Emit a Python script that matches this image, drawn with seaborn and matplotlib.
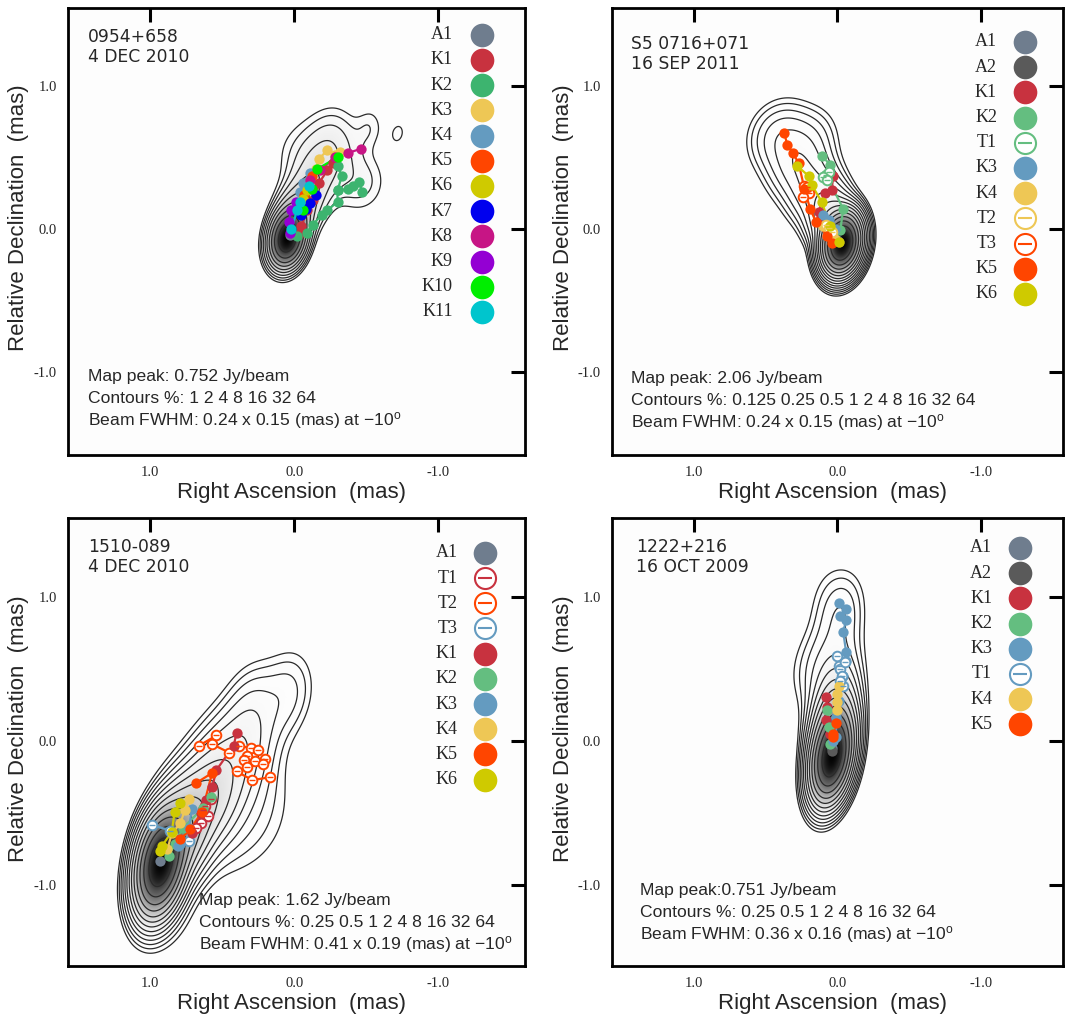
import numpy as np
import matplotlib
matplotlib.use('Agg')
import matplotlib.pyplot as plt
import seaborn as sns

sns.set_style('white')
plt.rcParams['font.family'] = ['Liberation Sans', 'DejaVu Sans']
plt.rcParams['axes.unicode_minus'] = False
plt.rcParams['mathtext.default'] = 'regular'

# ---------------- data (mas) ----------------
# colours
grey_a1 = '#6F7D8E'
grey_a2 = '#5A5A5A'
red = '#C8323F'
green1 = '#3DB46F'
green = '#64BE80'
yellow = '#EEC755'
blue = '#649BC0'
orange = '#FF4500'
olive = '#CFCA00'

# map models: x, y, peak amplitude, extra size (FWHM) added to beam
model_0954 = {'x': [0.05, 0.00, -0.08, -0.17, -0.27, -0.04, -0.46, -0.26, -0.52, -0.72],
              'y': [-0.07, 0.08, 0.22, 0.40, 0.56, 0.55, 0.32, 0.70, 0.71, 0.67],
              'amp': [1.0, 0.14, 0.06, 0.035, 0.022, 0.012, 0.02, 0.011, 0.0135, 0.0115],
              'size': [0.0, 0.10, 0.16, 0.22, 0.26, 0.28, 0.24, 0.22, 0.0, 0.0]}
model_0716 = {'x': [-0.03, 0.05, 0.15, 0.27, 0.36, 0.15, 0.48],
              'y': [-0.10, 0.08, 0.25, 0.45, 0.66, 0.66, 0.62],
              'amp': [1.0, 0.035, 0.012, 0.010, 0.005, 0.002, 0.002],
              'size': [0.0, 0.12, 0.2, 0.25, 0.25, 0.2, 0.2]}
model_1510 = {'x': [0.93, 0.78, 0.60, 0.45, 0.32, 0.29, 0.05, 0.90, 0.45],
              'y': [-0.85, -0.62, -0.40, -0.15, 0.03, 0.24, 0.33, -1.15, -0.45],
              'amp': [1.0, 0.15, 0.05, 0.02, 0.008, 0.0075, 0.0075, 0.004, 0.008],
              'size': [0.0, 0.15, 0.2, 0.25, 0.25, 0.18, 0.18, 0.3, 0.55]}
model_1222 = {'x': [0.04, 0.03, 0.02, 0.05, 0.18, -0.01, -0.03, 0.08],
              'y': [-0.11, 0.12, 0.35, 0.56, 0.48, 0.75, 0.92, 1.02],
              'amp': [1.0, 0.12, 0.02, 0.006, 0.003, 0.003, 0.007, 0.002],
              'size': [0.0, 0.10, 0.15, 0.25, 0.2, 0.2, 0.15, 0.15]}

beams = [(0.24, 0.15, -10), (0.24, 0.15, -10), (0.41, 0.19, -10), (0.36, 0.16, -10)]

levels_0954 = [1, 1.6, 2.5, 4, 6.4, 10, 16, 25, 40, 64]
levels_0716 = [0.125, 0.2, 0.32, 0.5, 0.8, 1.25, 2, 3.2, 5, 8, 12.5, 20, 32, 50]
levels_1510 = [0.25, 0.4, 0.63, 1, 1.6, 2.5, 4, 6.3, 10, 16, 25, 40, 64]
levels_1222 = [0.25, 0.4, 0.63, 1, 1.6, 2.5, 4, 6.3, 10, 16, 25, 40, 64]

# component tracks: name -> (RA offsets, Dec offsets)
tracks_0954 = {
    'A1': ([0.03], [-0.04]),
    'K1': ([-0.04, -0.05, -0.09, -0.13, -0.17, -0.23, -0.27], [-0.03, 0.02, 0.13, 0.20, 0.32, 0.41, 0.46]),
    'K2': ([-0.02, -0.09, -0.13, -0.19, -0.23, -0.30, -0.30, -0.37, -0.41, -0.45, -0.47, np.nan, -0.30, -0.33, -0.30],
           [-0.05, -0.03, 0.03, 0.10, 0.13, 0.19, 0.27, 0.28, 0.30, 0.33, 0.26, np.nan, 0.27, 0.37, 0.44]),
    'K3': ([-0.10, -0.15, -0.17, -0.23, -0.28, -0.32], [0.30, 0.42, 0.49, 0.55, 0.52, 0.54]),
    'K4': ([-0.04, -0.06, -0.11], [0.26, 0.32, 0.39]),
    'K5': ([-0.07, -0.10, -0.12], [0.24, 0.28, 0.37]),
    'K6': ([-0.03, -0.06, -0.09], [0.15, 0.21, 0.27]),
    'K7': ([-0.05, -0.08, -0.11, -0.15], [0.10, 0.14, 0.18, 0.24]),
    'K8': ([-0.11, -0.18, -0.28, -0.37, -0.46], [0.34, 0.41, 0.50, 0.53, 0.56]),
    'K9': ([0.03, 0.04, 0.02, -0.01], [-0.03, 0.05, 0.13, 0.19]),
    'K10': ([-0.06, -0.12, -0.16, -0.30], [0.13, 0.28, 0.42, 0.50]),
    'K11': ([0.02, -0.02, -0.04, -0.10], [0.00, 0.13, 0.19, 0.30]),
}
tracks_0716 = {
    'A1': ([0.0], [-0.08]),
    'A2': ([-0.01], [-0.09]),
    'K1': ([0.03, 0.04, 0.09, 0.13, 0.12], [0.37, 0.27, 0.25, 0.12, 0.06]),
    'K2': ([0.11, 0.05, 0.08, -0.04, -0.02], [0.51, 0.45, 0.38, 0.14, -0.01]),
    'T1': ([0.08, 0.06, 0.10, 0.07], [0.38, 0.40, 0.36, 0.34]),
    'K3': ([0.10, 0.06, 0.02], [0.10, 0.06, 0.00]),
    'K4': ([0.10, 0.05, 0.06, 0.02], [0.02, 0.00, -0.05, -0.07]),
    'T2': ([0.08, 0.06, 0.04], [0.03, 0.01, -0.02]),
    'T3': ([0.22, 0.20, 0.24, 0.23, 0.21], [0.27, 0.25, 0.22, 0.30, 0.29]),
    'K5': ([0.37, 0.35, 0.31, 0.27, 0.23, 0.19, 0.15, 0.07, 0.04], [0.67, 0.59, 0.53, 0.46, 0.28, 0.14, 0.05, -0.05, -0.10]),
    'K6': ([0.28, 0.20, 0.18, 0.11, 0.05, -0.01], [0.44, 0.37, 0.31, 0.19, 0.02, -0.09]),
}
tracks_1510 = {
    'A1': ([0.93], [-0.83]),
    'T1': ([0.58, 0.62, 0.60, 0.65, 0.68, 0.63], [-0.40, -0.45, -0.52, -0.57, -0.60, -0.48]),
    'T2': ([0.66, 0.54, 0.57, 0.45, 0.38, 0.30, 0.25, 0.33, 0.35, 0.27, 0.20, 0.22, 0.33, 0.40, 0.29, 0.17],
           [-0.03, 0.04, -0.02, -0.08, -0.03, -0.05, -0.06, -0.10, -0.13, -0.14, -0.12, -0.16, -0.18, -0.21, -0.27, -0.25]),
    'T3': ([0.99, 0.86, 0.73], [-0.58, -0.62, -0.69]),
    'K1': ([0.40, 0.42, 0.54, 0.57, 0.61, 0.65, 0.71], [0.06, -0.03, -0.20, -0.32, -0.41, -0.50, -0.64]),
    'K2': ([0.58, 0.63, 0.77, 0.83, 0.87], [-0.39, -0.46, -0.60, -0.71, -0.80]),
    'K3': ([0.71, 0.73, 0.79, 0.81], [-0.47, -0.60, -0.71, -0.73]),
    'K4': ([0.73, 0.76, 0.79, 0.85, 0.88], [-0.40, -0.48, -0.57, -0.64, -0.75]),
    'K5': ([0.68, 0.57, 0.64, 0.72, 0.79], [-0.29, -0.22, -0.49, -0.61, -0.68]),
    'K6': ([0.79, 0.83, 0.85, 0.92, 0.93], [-0.43, -0.49, -0.63, -0.73, -0.76]),
}
tracks_1222 = {
    'A1': ([0.04], [-0.05]),
    'A2': ([0.04], [-0.07]),
    'K1': ([0.08, 0.07, 0.08, 0.05], [0.31, 0.24, 0.15, 0.05]),
    'K2': ([0.07, 0.06, 0.05], [0.22, 0.10, -0.02]),
    'K3': ([-0.01, -0.06, -0.02, -0.06, -0.04, -0.06, -0.06, -0.04, -0.01, 0.01, 0.01, 0.03],
           [0.96, 0.92, 0.87, 0.84, 0.76, 0.62, 0.56, 0.45, 0.28, 0.17, 0.03, 0.00]),
    'T1': ([0.00, -0.01, -0.02, -0.03, -0.04, -0.05, -0.02], [0.59, 0.52, 0.50, 0.45, 0.38, 0.55, 0.42]),
    'K4': ([-0.01, 0.00, 0.00, 0.00], [0.38, 0.33, 0.27, 0.22]),
    'K5': ([0.01, 0.03, 0.03], [0.13, 0.05, 0.03]),
}

colors_0954 = {'A1': grey_a1, 'K1': red, 'K2': green1, 'K3': yellow, 'K4': blue, 'K5': orange,
               'K6': olive, 'K7': '#0000EE', 'K8': '#C71585', 'K9': '#9400D3', 'K10': '#00EE00',
               'K11': '#00C5CD'}
colors_0716 = {'A1': grey_a1, 'A2': grey_a2, 'K1': red, 'K2': green, 'T1': green, 'K3': blue,
               'K4': yellow, 'T2': yellow, 'T3': orange, 'K5': orange, 'K6': olive}
colors_1510 = {'A1': grey_a1, 'T1': red, 'T2': orange, 'T3': blue, 'K1': red, 'K2': green,
               'K3': blue, 'K4': yellow, 'K5': orange, 'K6': olive}
colors_1222 = {'A1': grey_a1, 'A2': grey_a2, 'K1': red, 'K2': green, 'K3': blue, 'T1': blue,
               'K4': yellow, 'K5': orange}

names = ['0954+658\n4 DEC 2010', 'S5 0716+071\n16 SEP 2011', '1510-089\n4 DEC 2010', '1222+216\n16 OCT 2009']
notes = [['Map peak: 0.752 Jy/beam', 'Contours %: 1 2 4 8 16 32 64',
          'Beam FWHM: 0.24 x 0.15 (mas) at $-$10$^{o}$'],
         ['Map peak: 2.06 Jy/beam', 'Contours %: 0.125 0.25 0.5 1 2 4 8 16 32 64',
          'Beam FWHM: 0.24 x 0.15 (mas) at $-$10$^{o}$'],
         ['Map peak: 1.62 Jy/beam', 'Contours %: 0.25 0.5 1 2 4 8 16 32 64',
          'Beam FWHM: 0.41 x 0.19 (mas) at $-$10$^{o}$'],
         ['Map peak:0.751 Jy/beam', 'Contours %: 0.25 0.5 1 2 4 8 16 32 64',
          'Beam FWHM: 0.36 x 0.16 (mas) at $-$10$^{o}$']]

# ---------------- layout ----------------
fig = plt.figure(figsize=(10.65, 10.21), dpi=100)
rects = [[0.0638, 0.5544, 0.4291, 0.4378], [0.5746, 0.5544, 0.4235, 0.4378],
         [0.0638, 0.0539, 0.4291, 0.4388], [0.5746, 0.0539, 0.4235, 0.4388]]
xlims = [(1.57, -1.60), (1.57, -1.57), (1.57, -1.60), (1.57, -1.57)]
ylims = [(-1.58, 1.545), (-1.58, 1.545), (-1.56, 1.55), (-1.56, 1.55)]
head_pos = [(0.044, 0.955), (0.042, 0.94), (0.044, 0.955), (0.053, 0.955)]
note_pos = [(0.044, 0.175), (0.042, 0.17), (0.287, 0.146), (0.063, 0.168)]
leg_pos = [(0.842, 0.906, 0.940), (0.854, 0.916, 0.924), (0.853, 0.912, 0.922), (0.843, 0.905, 0.933)]

models = [model_0954, model_0716, model_1510, model_1222]
levels = [levels_0954, levels_0716, levels_1510, levels_1222]
tracks = [tracks_0954, tracks_0716, tracks_1510, tracks_1222]
colors = [colors_0954, colors_0716, colors_1510, colors_1222]

gx = np.linspace(1.6, -1.6, 400)
gy = np.linspace(-1.6, 1.6, 400)
X, Y = np.meshgrid(gx, gy)

for i in range(4):
    ax = fig.add_axes(rects[i])
    m = models[i]
    bmaj, bmin, bpa = beams[i]
    pa = np.deg2rad(bpa)
    Z = np.zeros_like(X)
    for x0, y0, a, s in zip(m['x'], m['y'], m['amp'], m['size']):
        smaj = np.sqrt(bmaj ** 2 + s ** 2) / 2.3548
        smin = np.sqrt(bmin ** 2 + s ** 2) / 2.3548
        dx, dy = X - x0, Y - y0
        u = dx * np.sin(pa) + dy * np.cos(pa)
        v = dx * np.cos(pa) - dy * np.sin(pa)
        Z += a * np.exp(-0.5 * (u ** 2 / smaj ** 2 + v ** 2 / smin ** 2))
    Z /= Z.max()

    # grey scale image
    g = np.clip((np.log10(Z + 1e-9) + 2.3) / 2.3, 0, 1) ** 2.2 * 0.98 + 0.012
    ax.imshow(g, extent=[gx[0], gx[-1], gy[0], gy[-1]], origin='lower', cmap='Greys',
              vmin=0, vmax=1, interpolation='bilinear', aspect='auto', zorder=0)
    ax.contour(X, Y, Z, levels=np.array(levels[i]) / 100.0, colors='#2a2a2a', linewidths=0.9, zorder=1)

    # component tracks
    for name, (ra, dec) in tracks[i].items():
        c = colors[i][name]
        is_open = name.startswith('T')
        ax.plot(ra, dec, color=c, lw=1.6, zorder=3)
        sns.scatterplot(x=ra, y=dec, ax=ax, s=55 if not is_open else 48, color='white' if is_open else c,
                        edgecolor=c, linewidth=1.4 if is_open else 0, zorder=4, legend=False)
        if is_open:
            sns.scatterplot(x=ra, y=dec, ax=ax, s=16, marker='_', color=c, linewidth=1.0,
                            zorder=5, legend=False)

    # legend
    lx, mx, ly = leg_pos[i]
    step = 25.2 / (rects[i][3] * 1021)
    for k, name in enumerate(colors[i]):
        c = colors[i][name]
        yy = ly - k * step
        ax.text(lx, yy, name, transform=ax.transAxes, ha='right', va='center',
                fontsize=13, family='Liberation Serif')
        if name.startswith('T'):
            ax.scatter([mx], [yy], s=230, facecolor='white', edgecolor=c, linewidth=1.5,
                       transform=ax.transAxes, zorder=6, clip_on=False)
            ax.scatter([mx], [yy], s=110, marker='_', color=c, linewidth=1.5,
                       transform=ax.transAxes, zorder=7, clip_on=False)
        else:
            ax.scatter([mx], [yy], s=290, color=c, linewidth=0,
                       transform=ax.transAxes, zorder=6, clip_on=False)

    # annotation texts
    ax.text(head_pos[i][0], head_pos[i][1], names[i], transform=ax.transAxes, va='top',
            fontsize=12.3, family='DejaVu Sans', linespacing=1.15)
    nx, ny = note_pos[i]
    for k, line in enumerate(notes[i]):
        ax.text(nx, ny - k * 22 / (rects[i][3] * 1021), line, transform=ax.transAxes,
                va='center', fontsize=12.6)

    ax.set_xlim(*xlims[i])
    ax.set_ylim(*ylims[i])
    ax.set_xticks([1, 0, -1])
    ax.set_xticklabels(['1.0', '0.0', '-1.0'])
    ax.set_yticks([1, 0, -1])
    ax.set_yticklabels(['1.0', '0.0', '-1.0'])
    ax.tick_params(direction='in', length=10, width=2.2, top=True, right=True,
                   labelsize=10.5, color='black', pad=8)
    for lab in ax.get_xticklabels() + ax.get_yticklabels():
        lab.set_family('Liberation Serif')
    for sp in ax.spines.values():
        sp.set_linewidth(2.0)
        sp.set_color('black')
    ax.set_xlabel('Right Ascension  (mas)', fontsize=16)
    ax.set_ylabel('Relative Declination  (mas)', fontsize=16)
    ax.xaxis.set_label_coords(0.49, -0.06)
    ax.yaxis.set_label_coords(-0.085, 0.53)

fig.savefig('out.png', dpi=100)
